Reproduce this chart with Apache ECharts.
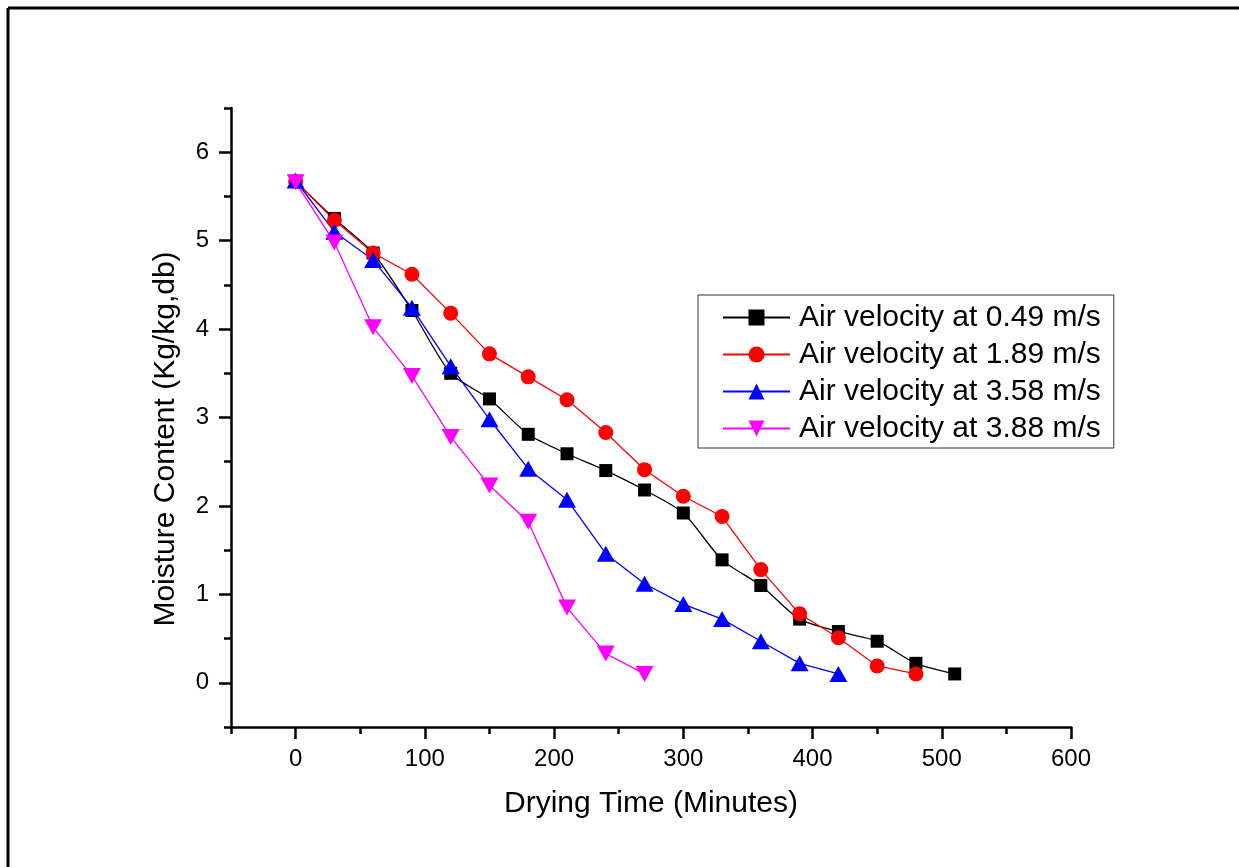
<!DOCTYPE html>
<html>
<head>
<meta charset="utf-8">
<script src="https://cdn.jsdelivr.net/npm/echarts@6/dist/echarts.min.js"></script>
<style>
  html, body { margin: 0; padding: 0; background: #fff }
  #chart { width: 1239px; height: 867px }
</style>
</head>
<body>
<div id="chart"></div>
<script>
// drying time, minutes
const times = [0, 30, 60, 90, 120, 150, 180, 210, 240, 270, 300, 330, 360, 390, 420, 450, 480, 510]

// moisture content (kg/kg, db) per air velocity
const v049 = [5.67, 5.25, 4.86, 4.21, 3.50, 3.21, 2.81, 2.59, 2.40, 2.18, 1.92, 1.39, 1.10, 0.72, 0.58, 0.47, 0.22, 0.10]
const v189 = [5.67, 5.23, 4.86, 4.62, 4.18, 3.72, 3.46, 3.20, 2.83, 2.41, 2.11, 1.88, 1.28, 0.78, 0.51, 0.19, 0.10]
const v358 = [5.68, 5.10, 4.78, 4.24, 3.58, 2.98, 2.42, 2.07, 1.46, 1.12, 0.89, 0.72, 0.47, 0.22, 0.10]
const v388 = [5.66, 4.98, 4.02, 3.47, 2.78, 2.23, 1.82, 0.85, 0.33, 0.10]

const seriesNames = ['Air velocity at 0.49 m/s', 'Air velocity at 1.89 m/s', 'Air velocity at 3.58 m/s', 'Air velocity at 3.88 m/s']

// axis ticks
const xMajor = [0, 100, 200, 300, 400, 500, 600]
const xMinor = [-50, 50, 150, 250, 350, 450, 550]
const yMajor = [0, 1, 2, 3, 4, 5, 6]
const yMinor = [-0.5, 0.5, 1.5, 2.5, 3.5, 4.5, 5.5, 6.5]

const font = 'Liberation Sans, Arial, sans-serif'

function pairs(vals) {
  return vals.map((v, i) => [times[i], v])
}

const chart = echarts.init(document.getElementById('chart'))

const tickStyle = { color: '#000', width: 2.5 }

chart.setOption({
  animation: false,
  backgroundColor: '#fff',
  grid: { left: 231, right: 168, top: 108, bottom: 140 },
  // outer frame (only top and left edges are visible)
  graphic: [
    { type: 'line', shape: { x1: 8, y1: 8, x2: 1239, y2: 8 }, style: { stroke: '#000', lineWidth: 3 } },
    { type: 'line', shape: { x1: 8, y1: 8, x2: 8, y2: 867 }, style: { stroke: '#000', lineWidth: 3 } },
  ],
  legend: {
    orient: 'vertical',
    left: 698, top: 295,
    padding: [7, 13, 4, 24],
    borderColor: '#333', borderWidth: 1,
    itemWidth: 67, itemHeight: 20, itemGap: 6,
    textStyle: { fontFamily: font, fontSize: 30, color: '#000', lineHeight: 31, padding: [0, 0, 0, 4] },
    data: seriesNames,
  },
  xAxis: [
    {
      type: 'value', min: -50, max: 600,
      name: 'Drying Time (Minutes)', nameLocation: 'middle', nameGap: 62,
      nameTextStyle: { fontFamily: font, fontSize: 30, color: '#000' },
      axisLine: { onZero: false, lineStyle: { color: '#000', width: 2.5 } },
      axisTick: { show: true, inside: false, length: 12, lineStyle: tickStyle, customValues: xMajor },
      axisLabel: { fontFamily: font, fontSize: 24, color: '#000', margin: 20, customValues: xMajor },
      splitLine: { show: false },
    },
    {
      type: 'value', min: -50, max: 600, position: 'bottom',
      axisLine: { show: false, onZero: false },
      axisTick: { show: true, inside: false, length: 7, lineStyle: tickStyle, customValues: xMinor },
      axisLabel: { show: false },
      splitLine: { show: false },
    },
  ],
  yAxis: [
    {
      type: 'value', min: -0.5, max: 6.5,
      name: 'Moisture Content (Kg/kg,db)', nameLocation: 'middle', nameGap: 50,
      nameTextStyle: { fontFamily: font, fontSize: 30, color: '#000', padding: [0, 43, 0, 0] },
      axisLine: { onZero: false, lineStyle: { color: '#000', width: 2.5 } },
      axisTick: { show: true, inside: false, length: 12, lineStyle: tickStyle, customValues: yMajor },
      axisLabel: { fontFamily: font, fontSize: 24, color: '#000', margin: 22, customValues: yMajor },
      splitLine: { show: false },
    },
    {
      type: 'value', min: -0.5, max: 6.5, position: 'left',
      axisLine: { show: false, onZero: false },
      axisTick: { show: true, inside: false, length: 7, lineStyle: tickStyle, customValues: yMinor },
      axisLabel: { show: false },
      splitLine: { show: false },
    },
  ],
  series: [
    {
      name: seriesNames[0], type: 'line', data: pairs(v049),
      symbol: 'rect', symbolSize: 13, smooth: 0.25,
      itemStyle: { color: '#000' }, lineStyle: { color: '#000', width: 1.3 },
    },
    {
      name: seriesNames[1], type: 'line', data: pairs(v189),
      symbol: 'circle', symbolSize: 15,
      itemStyle: { color: '#ff0000' }, lineStyle: { color: '#ff0000', width: 1.3 },
    },
    {
      name: seriesNames[2], type: 'line', data: pairs(v358),
      symbol: 'triangle', symbolSize: [18, 16],
      itemStyle: { color: '#0000ff' }, lineStyle: { color: '#0000ff', width: 1.3 },
    },
    {
      name: seriesNames[3], type: 'line', data: pairs(v388),
      symbol: 'triangle', symbolSize: [18, 16], symbolRotate: 180,
      itemStyle: { color: '#ff00ff' }, lineStyle: { color: '#ff00ff', width: 1.3 },
    },
  ],
})
</script>
</body>
</html>
